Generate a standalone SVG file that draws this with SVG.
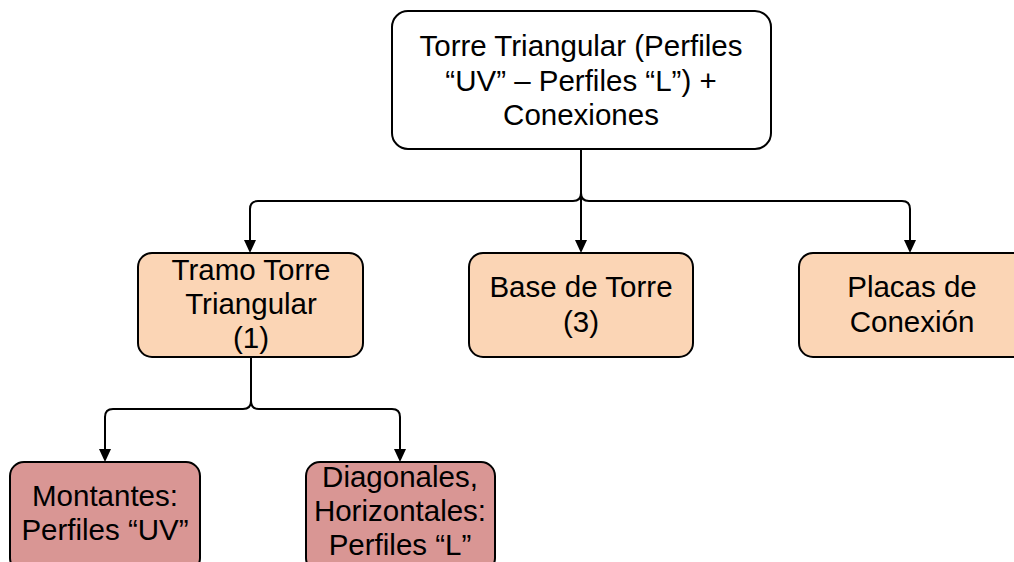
<svg xmlns="http://www.w3.org/2000/svg" width="1014" height="562" viewBox="0 0 1014 562">
  <style>
    .box { stroke: #000; stroke-width: 2; }
    .root { fill: #ffffff; }
    .lvl1 { fill: #fbd5b5; }
    .lvl2 { fill: #d99694; }
    .lbl { font-family: "Liberation Sans", Arial, sans-serif; font-size: 29.5px; fill: #000; text-anchor: middle; }
    .conn { fill: none; stroke: #000; stroke-width: 2; }
    .head { fill: #000; }
  </style>
  <rect width="1014" height="562" fill="#ffffff"/>

  <g id="connectors">
    <path class="conn" d="M581,149 V241"/>
    <path class="conn" d="M581,149 V193 Q581,201 573,201 H258 Q250,201 250,209 V241"/>
    <path class="conn" d="M581,149 V193 Q581,201 589,201 H902 Q910,201 910,209 V241"/>
    <path class="conn" d="M251,357 V401 Q251,409 243,409 H113 Q105,409 105,417 V450"/>
    <path class="conn" d="M251,357 V401 Q251,409 259,409 H392 Q400,409 400,417 V450"/>
    <!-- arrowheads -->
    <path class="head" d="M244,240 L256,240 L250,253 Z"/>
    <path class="head" d="M575,240 L587,240 L581,253 Z"/>
    <path class="head" d="M904,240 L916,240 L910,253 Z"/>
    <path class="head" d="M99,449 L111,449 L105,462 Z"/>
    <path class="head" d="M394,449 L406,449 L400,462 Z"/>
  </g>

  <g id="node-torre">
    <rect class="box root" x="392" y="11" width="379" height="138" rx="16"/>
    <text class="lbl" x="581" y="56">Torre Triangular (Perfiles</text>
    <text class="lbl" x="581" y="91">“UV” – Perfiles “L”) +</text>
    <text class="lbl" x="581" y="125">Conexiones</text>
  </g>

  <g id="node-tramo">
    <rect class="box lvl1" x="138" y="253" width="225" height="104" rx="14"/>
    <text class="lbl" x="251" y="280">Tramo Torre</text>
    <text class="lbl" x="251" y="314">Triangular</text>
    <text class="lbl" x="251" y="348">(1)</text>
  </g>

  <g id="node-base">
    <rect class="box lvl1" x="469" y="253" width="224" height="104" rx="14"/>
    <text class="lbl" x="581" y="297">Base de Torre</text>
    <text class="lbl" x="581" y="332">(3)</text>
  </g>

  <g id="node-placas">
    <rect class="box lvl1" x="799" y="253" width="230" height="104" rx="14"/>
    <text class="lbl" x="912" y="297">Placas de</text>
    <text class="lbl" x="912" y="332">Conexión</text>
  </g>

  <g id="node-montantes">
    <rect class="box lvl2" x="10" y="462" width="190" height="110" rx="14"/>
    <text class="lbl" x="105" y="506">Montantes:</text>
    <text class="lbl" x="105" y="540">Perfiles “UV”</text>
  </g>

  <g id="node-diagonales">
    <rect class="box lvl2" x="306" y="462" width="189" height="110" rx="14"/>
    <text class="lbl" x="400" y="487">Diagonales,</text>
    <text class="lbl" x="400" y="521">Horizontales:</text>
    <text class="lbl" x="400" y="555">Perfiles “L”</text>
  </g>
</svg>
